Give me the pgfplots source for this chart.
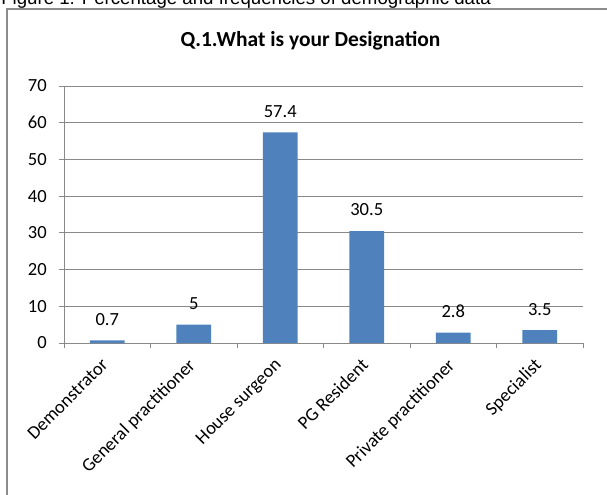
\documentclass[border=0pt]{standalone}
\usepackage{pgfplots}
\pgfplotsset{compat=1.18}
\usepackage{fontspec}
\setmainfont{Carlito}
\newfontfamily\capfont{Liberation Sans}

\definecolor{barblue}{HTML}{4F81BD}
\definecolor{gridgray}{HTML}{898989}
\definecolor{framegray}{HTML}{8C8C8C}

\newcommand{\lblfont}{\fontsize{13.9pt}{16pt}\selectfont}

\begin{document}
\begin{tikzpicture}
% page area: 607 x 495 px at 0.75pt per px
\path[use as bounding box, clip] (0,0) rectangle (455.25pt,-371.25pt);

\begin{scope}[x=0.75pt, y=-0.75pt]
  % caption above the chart frame
  \node[anchor=base west, inner sep=0pt, font=\capfont\fontsize{14pt}{16pt}\selectfont]
    at (1,4.5) {Figure 1: Percentage and frequencies of demographic data};
  % chart frame
  \draw[framegray, line width=0.9pt] (7,600) -- (7,9) -- (700,9);
  % chart title
  \node[anchor=base, inner sep=0pt, font=\bfseries\fontsize{16.1pt}{18pt}\selectfont]
    at (310.5,47) {Q.1.What is your Designation};
\end{scope}

\begin{axis}[
  at={(48pt,-257.25pt)}, anchor=south west,
  scale only axis,
  width=389.25pt, height=192.75pt,
  xmin=-0.5, xmax=5.5,
  ymin=0, ymax=70,
  ytick={0,10,...,70},
  ymajorgrids,
  grid style={gridgray, line width=0.75pt},
  axis lines=left,
  axis line style={-, gridgray, line width=0.75pt},
  tick align=outside,
  major tick length=3.75pt,
  tick style={gridgray, line width=0.75pt},
  xtick={-0.5,0.5,...,5.5},
  xticklabels={},
  extra x ticks={0,1,2,3,4,5},
  extra x tick labels={Demonstrator,General practitioner,House surgeon,PG Resident,Private practitioner,Specialist},
  extra x tick style={major tick length=0pt, grid=none,
    xticklabel style={yshift=-10.5pt, xshift=-5pt, rotate=45, anchor=north east, inner sep=0pt}},
  yticklabel style={anchor=east, inner sep=0pt, xshift=-9pt},
  ticklabel style={font=\lblfont},
  /pgf/number format/assume math mode=true,
  ybar,
  bar width=0.4,
  nodes near coords,
  every node near coord/.append style={font=\lblfont, anchor=center, yshift=15.75pt, text=black},
  clip=false,
]
\addplot[ybar, fill=barblue, draw=none, mark=none]
  coordinates {(0,0.7) (1,5) (2,57.4) (3,30.5) (4,2.8) (5,3.5)};
\end{axis}
\end{tikzpicture}
\end{document}
